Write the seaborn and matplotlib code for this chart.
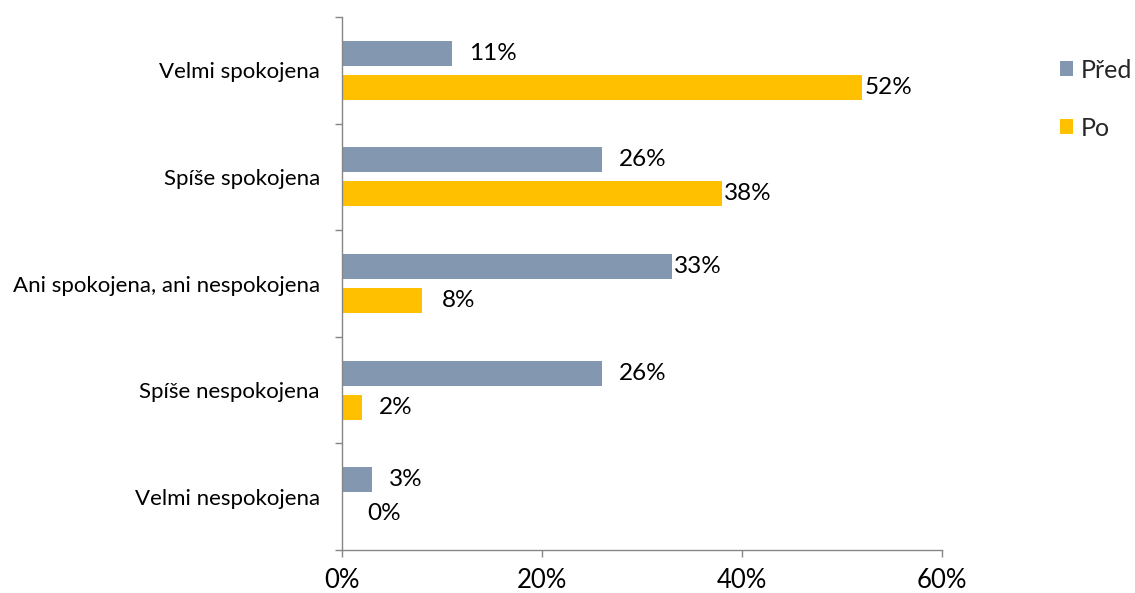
import matplotlib
matplotlib.use("Agg")
import matplotlib.pyplot as plt
import seaborn as sns
import pandas as pd
from matplotlib.patches import Patch
from matplotlib.ticker import FuncFormatter, FixedLocator

categories = ["Velmi spokojena", "Spíše spokojena", "Ani spokojena, ani nespokojena",
              "Spíše nespokojena", "Velmi nespokojena"]
series = ["Před", "Po"]
pred_values = [11, 26, 33, 26, 3]
po_values = [52, 38, 8, 2, 0]
x_ticks = [0, 20, 40, 60]

colors = {"Před": "#8497B0", "Po": "#FFC000"}
# horizontal gap (points) between bar end and its value label
pred_offsets = [12, 12, 1.5, 12, 12]
po_offsets = [2, 1.5, 14, 12, 18]

df = pd.DataFrame({
    "kategorie": categories * 2,
    "skupina": ["Před"] * len(categories) + ["Po"] * len(categories),
    "hodnota": pred_values + po_values,
})

sns.set_theme(style="white")
plt.rcParams["font.family"] = ["Lato", "DejaVu Sans"]

fig = plt.figure(figsize=(11.35, 5.93), dpi=100)
ax = fig.add_axes([342 / 1135, 1 - 550 / 593, 600 / 1135, 533 / 593])

sns.barplot(data=df, y="kategorie", x="hodnota", hue="skupina", order=categories,
            hue_order=series, palette=colors, orient="h", width=0.64,
            saturation=1, ax=ax, legend=False, errorbar=None)

# narrow each bar around its own centre so the pair is separated by a gap
bar_h = 0.235
for p in ax.patches:
    c = p.get_y() + p.get_height() / 2
    p.set_height(bar_h)
    p.set_y(c - bar_h / 2)
    p.set_linewidth(0)

for container, vals, offs in zip(ax.containers, [pred_values, po_values],
                                 [pred_offsets, po_offsets]):
    for bar, v, off in zip(container, vals, offs):
        yc = bar.get_y() + bar.get_height() / 2
        ax.annotate(f"{v}%", xy=(bar.get_width(), yc), xytext=(off, 0),
                    textcoords="offset points", ha="left", va="center",
                    fontsize=17.5, color="#000000")

ax.set_xlim(0, 60)
ax.set_ylim(4.5, -0.5)
ax.xaxis.set_major_locator(FixedLocator(x_ticks))
ax.xaxis.set_major_formatter(FuncFormatter(lambda v, _: f"{v:.0f}%"))
ax.set_xlabel("")
ax.set_ylabel("")

ax.set_yticks(range(len(categories)))
ax.set_yticklabels(categories)
ax.set_yticks([i - 0.5 for i in range(len(categories) + 1)], minor=True)

spine_color = "#868686"
for side in ["top", "right"]:
    ax.spines[side].set_visible(False)
for side in ["left", "bottom"]:
    ax.spines[side].set_color(spine_color)
    ax.spines[side].set_linewidth(1.0)

ax.tick_params(axis="y", which="major", length=0, pad=16, labelsize=16, labelcolor="#000000")
ax.tick_params(axis="y", which="minor", left=True, length=5, width=1, color=spine_color)
ax.tick_params(axis="x", which="major", bottom=True, length=5, width=1, color=spine_color,
               pad=8, labelsize=18.5, labelcolor="#000000")

handles = [Patch(facecolor=colors[s], edgecolor="none", label=s) for s in series]
fig.legend(handles=handles, loc="upper left", bbox_to_anchor=(1037 / 1135, 1 - 36 / 593),
           frameon=False, fontsize=18, handlelength=0.55, handleheight=0.55,
           handletextpad=0.3, labelspacing=1.4)

fig.savefig("out.png", dpi=100)
